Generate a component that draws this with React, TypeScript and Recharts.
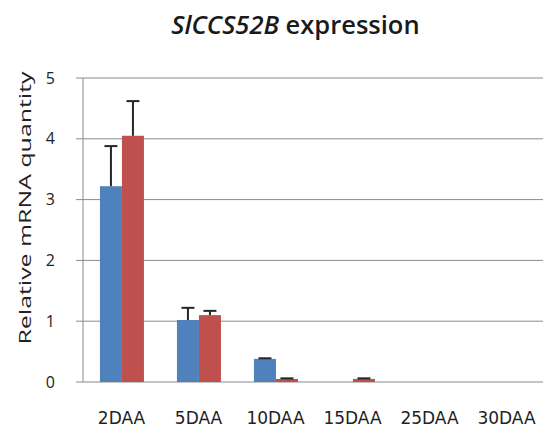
import React from 'react';
import { BarChart, Bar, XAxis, YAxis, CartesianGrid } from 'recharts';

const categories = ['2DAA', '5DAA', '10DAA', '15DAA', '25DAA', '30DAA'];
const seriesA = [3.22, 1.02, 0.38, 0, 0, 0];
const seriesB = [4.05, 1.1, 0.05, 0.05, 0, 0];
const errorsA = [0.66, 0.2, 0.01, 0, 0, 0];
const errorsB = [0.57, 0.07, 0.01, 0.01, 0, 0];
const yTicks = [0, 1, 2, 3, 4, 5];
const edgeTicks = [0, 1, 2, 3, 4, 5, 6];

const data = categories.map((c, i) => ({
  name: c,
  a: seriesA[i],
  b: seriesB[i],
  ea: errorsA[i],
  eb: errorsB[i],
}));

const makeShape = (valueKey: string, errKey: string) => (props: any) => {
  const { x, y, width, height, fill, payload } = props;
  const v = payload[valueKey];
  const e = payload[errKey];
  const pxPerUnit = v > 0 ? height / v : 0;
  const errPx = e * pxPerUnit;
  const cx = x + width / 2;
  const showErr = v > 0 && e > 0;
  return (
    <g>
      {height > 0 && <rect x={x} y={y} width={width} height={height} fill={fill} />}
      {showErr && (
        <g stroke="#262626" strokeWidth={2}>
          <line x1={cx} y1={y} x2={cx} y2={y - errPx} />
          <line x1={cx - 6.5} y1={y - errPx} x2={cx + 6.5} y2={y - errPx} />
        </g>
      )}
    </g>
  );
};

const shapeA = makeShape('a', 'ea');
const shapeB = makeShape('b', 'eb');

const YLabel = (props: any) => {
  const vb = props.viewBox || {};
  const cy = vb.y + vb.height / 2 - 22;
  return (
    <text
      x={31}
      y={cy}
      transform={`rotate(-90, 31, ${cy})`}
      textAnchor="middle"
      fontFamily="'Open Sans', sans-serif"
      fontSize={17}
      fill="#222"
      textLength={273}
      lengthAdjust="spacingAndGlyphs"
    >
      Relative mRNA quantity
    </text>
  );
};

export default function App() {
  return (
    <div style={{ position: 'absolute', left: 0, top: 0, width: 543, height: 433, overflow: 'hidden', background: '#fff' }}>
      <div
        style={{
          position: 'absolute',
          left: 0,
          width: 591,
          top: 7,
          textAlign: 'center',
          fontFamily: "'Open Sans', sans-serif",
          fontSize: 25.5,
          fontWeight: 600,
          color: '#1a1a1a',
          lineHeight: '34px',
          whiteSpace: 'nowrap',
        }}
      >
        <span style={{ fontStyle: 'italic' }}>SlCCS52B</span> expression
      </div>
      <BarChart
        width={546}
        height={433}
        data={data}
        margin={{ top: 78, right: 1, bottom: 0, left: 0 }}
        barCategoryGap="22%"
        barGap={0}
      >
        <CartesianGrid vertical={false} stroke="#8a8a8a" strokeWidth={1} />
        <XAxis
          xAxisId="edges"
          type="number"
          dataKey={() => 0}
          domain={[0, 6]}
          ticks={edgeTicks}
          allowDataOverflow
          height={0}
          axisLine={{ stroke: '#8a8a8a' }}
          tickLine={{ stroke: '#8a8a8a' }}
          tickSize={5}
          tickFormatter={() => ''}
        />
        <XAxis
          xAxisId="cat"
          dataKey="name"
          height={51}
          axisLine={false}
          tickLine={false}
          tickSize={0}
          tickMargin={30}
          interval={0}
          tick={{ fontFamily: "'DejaVu Sans', sans-serif", fontSize: 17, fill: '#222' }}
        />
        <YAxis
          width={83}
          domain={[0, 5]}
          ticks={yTicks}
          axisLine={{ stroke: '#8a8a8a' }}
          tickLine={{ stroke: '#8a8a8a' }}
          tickSize={7}
          tickMargin={21}
          tick={{ fontFamily: "'Open Sans', sans-serif", fontSize: 16, fill: '#222' }}
          label={<YLabel />}
        />
        <Bar xAxisId="cat" dataKey="a" fill="#4F81BD" shape={shapeA} isAnimationActive={false} />
        <Bar xAxisId="cat" dataKey="b" fill="#C0504D" shape={shapeB} isAnimationActive={false} />
      </BarChart>
    </div>
  );
}
